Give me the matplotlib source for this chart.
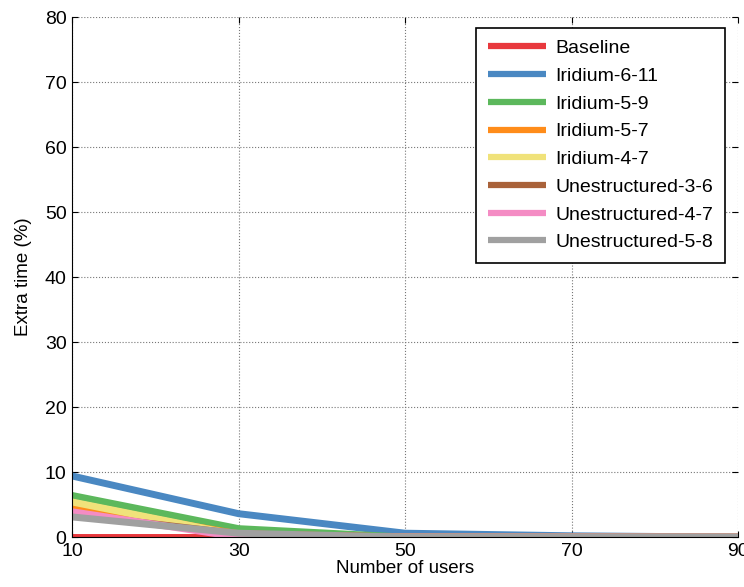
import matplotlib
matplotlib.use("Agg")
import matplotlib.pyplot as plt

plt.rcParams['font.family'] = ['Liberation Sans', 'DejaVu Sans']

# data
users = [10, 30, 50, 70, 90]
seriesNames = ['Baseline', 'Iridium-6-11', 'Iridium-5-9', 'Iridium-5-7', 'Iridium-4-7',
               'Unestructured-3-6', 'Unestructured-4-7', 'Unestructured-5-8']
baseline = [0, 0, 0, 0, 0]
iridium_6_11 = [9.4, 3.6, 0.6, 0.2, 0]
iridium_5_9 = [6.4, 1.3, 0, 0, 0]
iridium_5_7 = [4.8, 0.5, 0, 0, 0]
iridium_4_7 = [5.4, 0.3, 0, 0, 0]
unstruct_3_6 = [3.5, 0.5, 0, 0, 0]
unstruct_4_7 = [3.9, 0.0, 0, 0, 0]
unstruct_5_8 = [3.1, 0.6, 0, 0, 0]
seriesValues = [baseline, iridium_6_11, iridium_5_9, iridium_5_7, iridium_4_7,
                unstruct_3_6, unstruct_4_7, unstruct_5_8]
seriesColors = ['#e8383d', '#4a88c2', '#5cb85c', '#ff8c1a', '#f0e27a',
                '#a9623a', '#f48cc4', '#a0a0a0']

fig = plt.figure(figsize=(7.44, 5.87), dpi=100)
ax = fig.add_axes([0.097, 0.085, 0.895, 0.886])

for name, vals, col in zip(seriesNames, seriesValues, seriesColors):
    ax.plot(users, vals, color=col, linewidth=5, label=name, solid_capstyle='butt')

ax.set_xlim(10, 90)
ax.set_ylim(0, 80)
ax.set_xticks(users)
ax.set_yticks(range(0, 81, 10))
ax.grid(True, linestyle=':', color='#777777', linewidth=0.8)
ax.tick_params(direction='in', length=4, top=True, right=True, labelsize=14, pad=3)
ax.tick_params(axis='x', pad=4)
ax.tick_params(axis='y', pad=4)
ax.spines['top'].set_visible(False)
ax.spines['right'].set_visible(False)
ax.set_xlabel('Number of users', fontsize=13.5, labelpad=0)
ax.set_ylabel('Extra time (%)', fontsize=13.5, labelpad=9)

leg = ax.legend(loc='upper right', bbox_to_anchor=(0.980, 0.979), borderaxespad=0,
                fontsize=14, handlelength=3.0, labelspacing=0.52, borderpad=0.6,
                handletextpad=0.45, fancybox=False, framealpha=1, edgecolor='black')
leg.get_frame().set_linewidth(1.2)
for h in leg.get_lines():
    h.set_linewidth(4.5)

fig.savefig('out.png', dpi=100)
